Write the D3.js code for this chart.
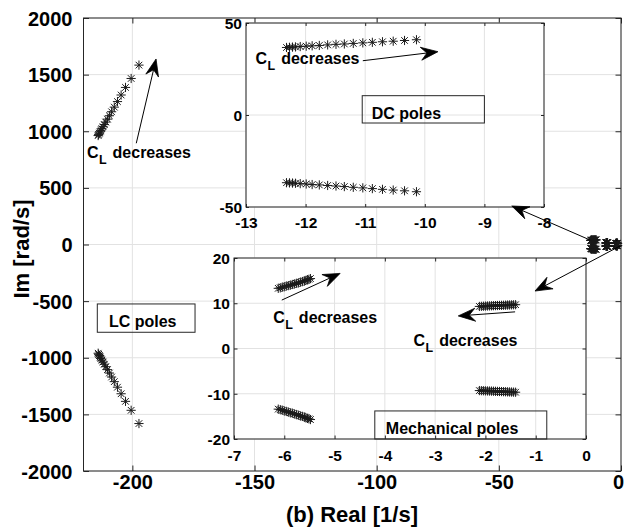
<!DOCTYPE html>
<html>
<head>
<meta charset="utf-8">
<script src="https://cdn.jsdelivr.net/npm/d3@7"></script>
<style>
  body { margin: 0; background: #fff; }
  svg { display: block; }
  text { font-family: "Liberation Sans", Arial, sans-serif; font-weight: bold; fill: #000; }
</style>
</head>
<body>
<svg id="chart" width="625" height="532"></svg>
<script>
// ---- Pole locations (real part [1/s], imaginary part [rad/s]) ----
// LC poles (complex pair), ordered as C_L decreases
const lcRe      = [-214.0, -213.8, -213.5, -213.2, -212.9, -212.5, -212.0, -211.5, -210.9, -210.2, -209.4, -208.5, -207.4, -206.1, -204.6, -202.8, -200.5, -197.3];
const lcImUpper = [962, 972, 983, 995, 1008, 1023, 1040, 1059, 1081, 1107, 1137, 1172, 1213, 1262, 1320, 1387, 1466, 1584];
const lcImLower = [-960, -970, -981, -993, -1006, -1021, -1038, -1057, -1079, -1105, -1135, -1170, -1211, -1260, -1318, -1385, -1464, -1581];

// DC-link poles
const dcRe      = [-12.32, -12.27, -12.22, -12.17, -12.09, -11.99, -11.89, -11.77, -11.63, -11.49, -11.35, -11.20, -11.04, -10.88, -10.71, -10.53, -10.34, -10.14];
const dcImUpper = [36.7, 36.8, 36.9, 37.0, 37.2, 37.4, 37.6, 37.8, 38.1, 38.4, 38.6, 38.9, 39.2, 39.5, 39.8, 40.1, 40.5, 40.9];
const dcImLower = [-36.8, -36.9, -37.0, -37.1, -37.3, -37.5, -37.8, -38.0, -38.3, -38.6, -38.9, -39.3, -39.6, -40.0, -40.4, -40.8, -41.2, -41.7];

// Mechanical poles: two complex pairs
const mechReA      = [-6.12, -6.08, -6.04, -6.00, -5.96, -5.92, -5.88, -5.84, -5.80, -5.76, -5.72, -5.68, -5.64, -5.60, -5.57, -5.54, -5.51, -5.48];
const mechImAUpper = [13.3, 13.4, 13.55, 13.65, 13.8, 13.9, 14.0, 14.15, 14.25, 14.4, 14.5, 14.65, 14.8, 14.9, 15.05, 15.2, 15.3, 15.45];
const mechImALower = [-13.4, -13.5, -13.65, -13.8, -13.9, -14.05, -14.2, -14.3, -14.45, -14.6, -14.75, -14.9, -15.0, -15.15, -15.3, -15.45, -15.55, -15.7];
const mechReB      = [-2.12, -2.08, -2.04, -2.00, -1.96, -1.92, -1.88, -1.84, -1.80, -1.76, -1.72, -1.68, -1.64, -1.60, -1.56, -1.52, -1.48, -1.44, -1.40];
const mechImBUpper = [9.3, 9.32, 9.35, 9.37, 9.4, 9.42, 9.44, 9.46, 9.48, 9.5, 9.52, 9.54, 9.56, 9.58, 9.6, 9.62, 9.64, 9.66, 9.68];
const mechImBLower = [-9.3, -9.32, -9.34, -9.36, -9.38, -9.4, -9.42, -9.44, -9.46, -9.48, -9.5, -9.52, -9.54, -9.56, -9.58, -9.6, -9.62, -9.64, -9.66];

// ---- Tick values ----
const mainXTicks = [-200, -150, -100, -50, 0];
const mainYTicks = [-2000, -1500, -1000, -500, 0, 500, 1000, 1500, 2000];
const dcXTicks   = [-13, -12, -11, -10, -9, -8];
const dcYTicks   = [-50, 0, 50];
const mechXTicks = [-7, -6, -5, -4, -3, -2, -1, 0];
const mechYTicks = [-20, -10, 0, 10, 20];

// ---- Text ----
const xLabel = "(b) Real [1/s]";
const yLabel = "Im [rad/s]";

const svg = d3.select("#chart");
const AX = "#262626", GRID = "#e2e2e2", MARK = "#1a1a1a";
const fmt = d => String(d); // plain hyphen-minus labels

// Scales for the main axes and the two magnified views
const x  = d3.scaleLinear().domain([-220, 0]).range([83.5, 621]);
const y  = d3.scaleLinear().domain([-2000, 2000]).range([471, 18]);
const xd = d3.scaleLinear().domain([-13, -8]).range([246, 544]);
const yd = d3.scaleLinear().domain([-50, 50]).range([207, 23]);
const xm = d3.scaleLinear().domain([-7, 0]).range([234, 586]);
const ym = d3.scaleLinear().domain([-20, 20]).range([439, 258]);

// Asterisk marker path
function star(cx, cy, r) {
  const d = r * 0.72;
  return `M${cx - r},${cy}H${cx + r}M${cx},${cy - r}V${cy + r}` +
         `M${cx - d},${cy - d}L${cx + d},${cy + d}M${cx - d},${cy + d}L${cx + d},${cy - d}`;
}

function drawSeries(g, sx, sy, re, im, r) {
  g.append("g")
    .selectAll("path")
    .data(re.map((v, i) => [v, im[i]]))
    .join("path")
    .attr("d", d => star(sx(d[0]), sy(d[1]), r))
    .attr("fill", "none")
    .attr("stroke", MARK)
    .attr("stroke-width", 1);
}

// Axes frame with grid, inward ticks on all sides and tick labels
function drawAxes(g, sx, sy, xt, yt, o) {
  const [x0, x1] = sx.range(), [y0, y1] = sy.range(); // y0 bottom, y1 top
  if (o.background) {
    g.append("rect").attr("x", x0).attr("y", y1).attr("width", x1 - x0).attr("height", y0 - y1).attr("fill", "#fff");
  }
  const grid = g.append("g").attr("stroke", GRID).attr("stroke-width", 1);
  xt.forEach(t => grid.append("line").attr("x1", sx(t)).attr("x2", sx(t)).attr("y1", y0).attr("y2", y1));
  yt.forEach(t => grid.append("line").attr("y1", sy(t)).attr("y2", sy(t)).attr("x1", x0).attr("x2", x1));

  const xAxisB = d3.axisBottom(sx).tickValues(xt).tickSize(-o.tick).tickSizeOuter(0).tickFormat(fmt);
  const xAxisT = d3.axisTop(sx).tickValues(xt).tickSize(-o.tick).tickSizeOuter(0).tickFormat("");
  const yAxisL = d3.axisLeft(sy).tickValues(yt).tickSize(-o.tick).tickSizeOuter(0).tickFormat(fmt);
  const yAxisR = d3.axisRight(sy).tickValues(yt).tickSize(-o.tick).tickSizeOuter(0).tickFormat("");

  const gb = g.append("g").attr("transform", `translate(0,${y0})`).call(xAxisB);
  const gt = g.append("g").attr("transform", `translate(0,${y1})`).call(xAxisT);
  const gl = g.append("g").attr("transform", `translate(${x0},0)`).call(yAxisL);
  const gr = g.append("g").attr("transform", `translate(${x1},0)`).call(yAxisR);
  [gb, gt, gl, gr].forEach(a => {
    a.selectAll(".domain").remove();
    a.selectAll(".tick line").attr("stroke", AX);
    a.selectAll("text").attr("font-size", o.font).attr("font-family", null).attr("fill", "#000");
  });
  gb.selectAll("text").attr("dy", null).attr("y", o.xLabelDy);
  gl.selectAll("text").attr("dy", "0.35em").attr("x", -o.yLabelGap);
  if (o.lastXShift) gb.selectAll("text").filter((d, i, n) => i === n.length - 1).attr("x", o.lastXShift);

  g.append("rect").attr("x", x0).attr("y", y1).attr("width", x1 - x0).attr("height", y0 - y1)
    .attr("fill", "none").attr("stroke", AX).attr("stroke-width", 1);
}

// Arrow with a filled, notched head
function arrow(g, x1, y1, x2, y2) {
  const L = 17, W = 6.5, N = 11;
  const a = Math.atan2(y2 - y1, x2 - x1), c = Math.cos(a), s = Math.sin(a);
  const pt = (u, v) => [x2 - u * c - v * s, y2 - u * s + v * c];
  const notch = pt(N, 0);
  g.append("line").attr("x1", x1).attr("y1", y1).attr("x2", notch[0]).attr("y2", notch[1])
    .attr("stroke", "#000").attr("stroke-width", 1);
  g.append("path")
    .attr("d", d3.line()([[x2, y2], pt(L, W), notch, pt(L, -W)]) + "Z")
    .attr("fill", "#000").attr("stroke", "#000").attr("stroke-width", 0.8).attr("stroke-linejoin", "miter");
}

// "C_L decreases" label with subscript
function clLabel(g, px, py) {
  const t = g.append("text").attr("x", px).attr("y", py).attr("font-size", 16);
  t.append("tspan").text("C");
  t.append("tspan").attr("font-size", 12.5).attr("dy", 6).attr("dx", 0.5).text("L");
  t.append("tspan").attr("dy", -6).attr("dx", 1.5).text(" decreases");
}

function textBox(g, sx, sy, bx0, bx1, by0, by1, tx, ty, label) {
  g.append("rect")
    .attr("x", sx(bx0)).attr("y", sy(by1))
    .attr("width", sx(bx1) - sx(bx0)).attr("height", sy(by0) - sy(by1))
    .attr("fill", "none").attr("stroke", AX).attr("stroke-width", 1);
  g.append("text").attr("x", sx(tx)).attr("y", sy(ty)).attr("font-size", 16).text(label);
}

// ---------------- Main axes ----------------
const main = svg.append("g");
drawAxes(main, x, y, mainXTicks, mainYTicks, { tick: 5.5, font: 20, xLabelDy: 17.5, yLabelGap: 11, lastXShift: -3 });
drawSeries(main, x, y, lcRe, lcImUpper, 4.6);
drawSeries(main, x, y, lcRe, lcImLower, 4.6);
drawSeries(main, x, y, dcRe, dcImUpper, 4.6);
drawSeries(main, x, y, dcRe, dcImLower, 4.6);
drawSeries(main, x, y, mechReA, mechImAUpper, 4.6);
drawSeries(main, x, y, mechReA, mechImALower, 4.6);
drawSeries(main, x, y, mechReB, mechImBUpper, 4.6);
drawSeries(main, x, y, mechReB, mechImBLower, 4.6);

svg.append("text").attr("x", 352).attr("y", 522).attr("text-anchor", "middle").attr("font-size", 22).text(xLabel);
svg.append("text").attr("transform", "translate(29,249) rotate(-90)").attr("text-anchor", "middle").attr("font-size", 22).text(yLabel);

// ---------------- DC pole view ----------------
const dcG = svg.append("g");
drawAxes(dcG, xd, yd, dcXTicks, dcYTicks, { background: true, tick: 3, font: 15.5, xLabelDy: 20.5, yLabelGap: 4 });
drawSeries(dcG, xd, yd, dcRe, dcImUpper, 4.6);
drawSeries(dcG, xd, yd, dcRe, dcImLower, 4.6);
textBox(dcG, xd, yd, -11.05, -9.0, -4.35, 10.5, -10.89, -2.2, "DC poles");

// ---------------- Mechanical pole view ----------------
const mG = svg.append("g");
drawAxes(mG, xm, ym, mechXTicks, mechYTicks, { background: true, tick: 3.5, font: 15.5, xLabelDy: 21.5, yLabelGap: 4 });
drawSeries(mG, xm, ym, mechReA, mechImAUpper, 4.6);
drawSeries(mG, xm, ym, mechReA, mechImALower, 4.6);
drawSeries(mG, xm, ym, mechReB, mechImBUpper, 4.6);
drawSeries(mG, xm, ym, mechReB, mechImBLower, 4.6);
textBox(mG, xm, ym, -4.2, -0.78, -20, -13.8, -3.98, -18.9, "Mechanical poles");

// ---------------- Annotations ----------------
const ann = svg.append("g");
// main axes
textBox(ann, x, y, -214.35, -174.35, -775, -525, -209.6, -728, "LC poles");
clLabel(ann, x(-218.6), y(764));
arrow(ann, x(-198.4), y(894), x(-190.3), y(1638));
arrow(ann, x(-12.7), y(40), x(-44.7), y(340));
arrow(ann, x(-0.4), y(-13), x(-35.2), y(-411));
// DC view
clLabel(ann, xd(-12.84), yd(27.8));
arrow(ann, xd(-11.04), yd(29.5), xd(-9.78), yd(34.4));
// mechanical view
clLabel(ann, xm(-6.22), ym(5.7));
arrow(ann, xm(-6.05), ym(10.7), xm(-4.89), ym(16.6));
clLabel(ann, xm(-3.43), ym(0.55));
arrow(ann, xm(-1.41), ym(8.1), xm(-2.54), ym(7.2));
</script>
</body>
</html>
